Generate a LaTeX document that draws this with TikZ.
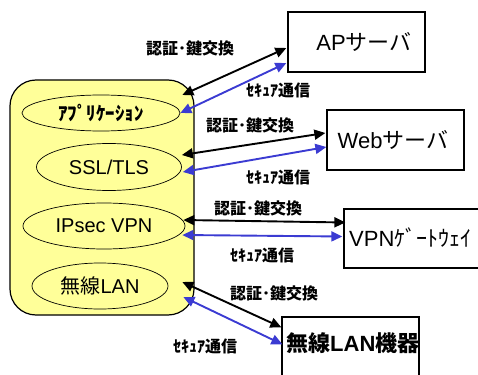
\documentclass[tikz,border=0pt]{standalone}
\usepackage{fontspec}
\usetikzlibrary{shapes.geometric,arrows.meta,calc}
\newfontfamily\jp{Noto Sans CJK JP}
\newfontfamily\lat{Liberation Sans}
\definecolor{panel}{HTML}{FFFF99}
\definecolor{secblue}{HTML}{3B3BD2}
\tikzset{
  layer/.style={draw=black, line width=0.7pt, fill=panel, ellipse, inner sep=0pt, font=\lat\fontsize{20}{20}\selectfont},
  host/.style={draw=black, line width=1.3pt, fill=white, rectangle, inner sep=0pt},
  hosttext/.style={font=\lat\fontsize{22}{22}\selectfont, inner sep=0pt},
  lbl/.style={font=\jp\bfseries\fontsize{16}{16}\selectfont, inner sep=0pt},
  keyx/.style={draw=black, line width=1.9pt, {Triangle[length=11pt,width=10pt]}-{Triangle[length=11pt,width=10pt]}},
  secure/.style={draw=secblue, line width=1.9pt, {Triangle[length=11pt,width=10pt]}-{Triangle[length=11pt,width=10pt]}},
}
\begin{document}
\begin{tikzpicture}[x=1pt,y=-1pt]
\useasboundingbox (0,0) rectangle (478,374);
\clip (0,0) rectangle (478,374);

% protocol stack panel
\draw[line width=1.2pt, fill=panel, rounded corners=26pt] (10,80) rectangle (194,315);

\node[layer, minimum width=158pt, minimum height=36pt] (app) at (101,113) {\jp\bfseries\fontsize{19}{19}\selectfont ｱﾌﾟﾘｹｰｼｮﾝ};
\node[layer, minimum width=145pt, minimum height=47pt] (ssl) at (109,167) {SSL/TLS};
\node[layer, minimum width=162pt, minimum height=46pt] (ipsec) at (104,226) {IPsec VPN};
\node[layer, minimum width=136pt, minimum height=46pt] (wlan) at (100,286) {{\jp 無線}LAN};

% peers
\node[host, minimum width=137pt, minimum height=60pt] (ap) at (356.5,42) {};
\node[hosttext] at (364,42) {AP{\jp サーバ}};
\node[host, minimum width=137pt, minimum height=60pt] (web) at (395.5,140) {};
\node[hosttext] at (393,140) {Web{\jp サーバ}};
\node[host, minimum width=150pt, minimum height=59pt] (vpn) at (419,238.5) {};
\node[hosttext, anchor=west] at (349,238) {VPN{\jp ｹﾞｰﾄｳｪｲ}};
\node[host, minimum width=137pt, minimum height=80pt] (dev) at (350.5,357) {};
\node[hosttext, anchor=west, font=\bfseries\fontsize{22}{22}\selectfont] at (286,343) {{\jp 無線}{\lat LAN}{\jp 機器}};

% key exchange and secure channels
\draw[keyx]   ($(app.east)+(2,-18)$) -- ($(ap.west)+(-1,6)$);
\draw[secure] (app.east) -- ($(ap.west)+(-1,21)$);
\draw[keyx]   ($(ssl.east)+(0,-12)$) -- ($(web.west)+(-1,-7)$);
\draw[secure] ($(ssl.east)+(1,5)$) -- ($(web.west)+(0,7)$);
\draw[keyx]   ($(ipsec.east)+(-2,-6)$) -- ($(vpn.west)+(2,-16)$);
\draw[secure] ($(ipsec.east)+(-3,9)$) -- ($(vpn.west)+(-1,-2)$);
\draw[keyx]   ($(wlan.east)+(14,-4)$) -- ($(dev.north west)+(0,11)$);
\draw[secure] ($(wlan.east)+(15,11)$) -- ($(dev.north west)+(1,28)$);

% labels
\node[lbl] (k1) at (190,48) {認証･鍵交換};
\node[lbl] (s1) at (278,90) {ｾｷｭｱ通信};
\node[lbl] (k2) at (250,125) {認証･鍵交換};
\node[lbl] (s2) at (278,177) {ｾｷｭｱ通信};
\node[lbl] (k3) at (258,208) {認証･鍵交換};
\node[lbl] (s3) at (262,255) {ｾｷｭｱ通信};
\node[lbl] (k4) at (274,293) {認証･鍵交換};
\node[lbl] (s4) at (205,346) {ｾｷｭｱ通信};
\end{tikzpicture}
\end{document}
